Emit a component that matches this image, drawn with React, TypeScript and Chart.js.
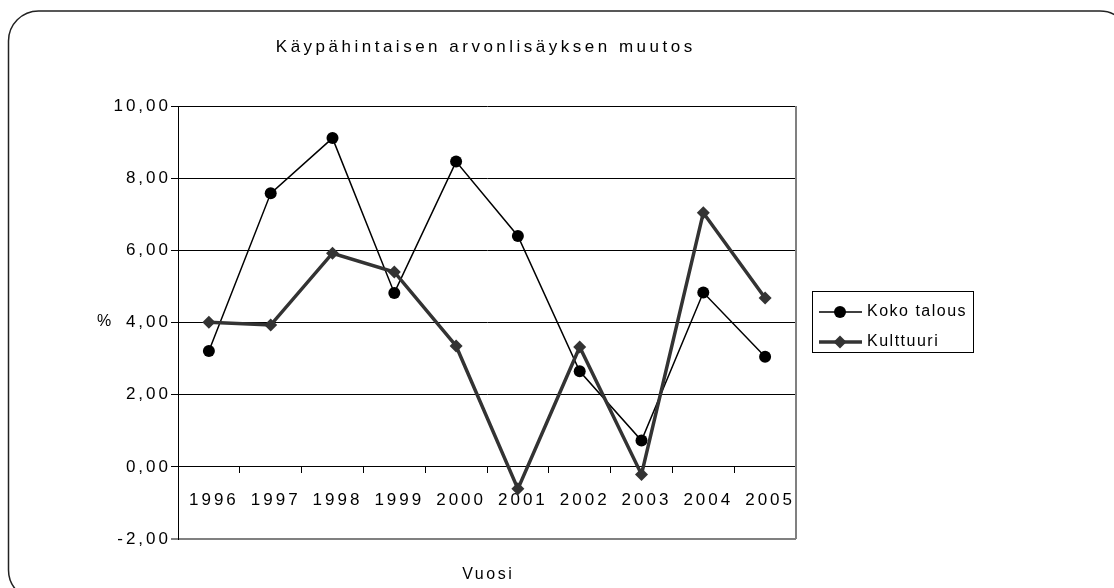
import React, { useEffect, useRef } from 'react';
import { Chart, registerables } from 'chart.js';

Chart.register(...registerables);

const years = ['1996', '1997', '1998', '1999', '2000', '2001', '2002', '2003', '2004', '2005'];
const kokoTalous = [3.21, 7.58, 9.11, 4.82, 8.46, 6.4, 2.65, 0.73, 4.83, 3.05];
const kulttuuri = [4.01, 3.93, 5.92, 5.4, 3.35, -0.61, 3.32, -0.21, 7.04, 4.68];
const seriesNames = ['Koko talous', 'Kulttuuri'];
const titleText = 'Käypähintaisen arvonlisäyksen muutos';
const xAxisTitle = 'Vuosi';
const yAxisTitle = '%';
const yMin = -2;
const yMax = 10;
const yStep = 2;

const FONT = '"Liberation Sans", Arial, Helvetica, sans-serif';

function drawText(ctx: CanvasRenderingContext2D, text: string, x: number, y: number, size: number, spacing: number, align: CanvasTextAlign) {
  ctx.save();
  (ctx as any).letterSpacing = spacing + 'px';
  ctx.font = `${size}px ${FONT}`;
  ctx.fillStyle = '#000';
  ctx.textAlign = align;
  ctx.textBaseline = 'middle';
  ctx.fillText(text, align === 'center' ? x + spacing / 2 : x, y);
  ctx.restore();
}

const decorPlugin = {
  id: 'decor',
  beforeDraw(chart: any) {
    const ctx: CanvasRenderingContext2D = chart.ctx;
    ctx.save();
    ctx.fillStyle = '#fff';
    ctx.fillRect(0, 0, chart.width, chart.height);
    // rounded outer frame
    const l = 8.5, t = 11, r = 1130, b = 600, rad = 30;
    ctx.beginPath();
    ctx.moveTo(l + rad, t);
    ctx.lineTo(r - rad, t);
    ctx.arcTo(r, t, r, t + rad, rad);
    ctx.lineTo(r, b - rad);
    ctx.arcTo(r, b, r - rad, b, rad);
    ctx.lineTo(l + rad, b);
    ctx.arcTo(l, b, l, b - rad, rad);
    ctx.lineTo(l, t + rad);
    ctx.arcTo(l, t, l + rad, t, rad);
    ctx.closePath();
    ctx.strokeStyle = '#222';
    ctx.lineWidth = 1.5;
    ctx.stroke();
    ctx.restore();
    (ctx as any).letterSpacing = '3px';
  },
  beforeDatasetsDraw(chart: any) {
    const ctx: CanvasRenderingContext2D = chart.ctx;
    (ctx as any).letterSpacing = '0px';
    const a = chart.chartArea;
    ctx.save();
    ctx.strokeStyle = '#808080';
    ctx.lineWidth = 2;
    ctx.beginPath();
    ctx.moveTo(a.right, a.top);
    ctx.lineTo(a.right, a.bottom);
    ctx.stroke();
    ctx.restore();
  },
  afterDraw(chart: any) {
    const ctx: CanvasRenderingContext2D = chart.ctx;
    const a = chart.chartArea;
    const cx = (a.left + a.right) / 2;
    drawText(ctx, titleText, cx - 3, 47, 17, 3.5, 'center');
    drawText(ctx, xAxisTitle, cx, 575, 16, 2.5, 'center');
    drawText(ctx, yAxisTitle, 104, (a.top + a.bottom) / 2 - 1, 16, 0, 'center');

    // legend
    const bx = 812.5, by = 291.5, bw = 161, bh = 61;
    ctx.save();
    ctx.strokeStyle = '#000';
    ctx.lineWidth = 1;
    ctx.strokeRect(bx, by, bw, bh);
    const ds = chart.data.datasets;
    const rows = [312, 342];
    rows.forEach((yy, i) => {
      const d = ds[i];
      ctx.strokeStyle = d.borderColor;
      ctx.lineWidth = d.borderWidth;
      ctx.beginPath();
      ctx.moveTo(819, yy);
      ctx.lineTo(862, yy);
      ctx.stroke();
      ctx.fillStyle = d.pointBackgroundColor;
      ctx.beginPath();
      if (d.pointStyle === 'circle') {
        ctx.arc(840, yy, d.pointRadius, 0, Math.PI * 2);
      } else {
        const rr = d.pointRadius;
        ctx.moveTo(840, yy - rr);
        ctx.lineTo(840 + rr, yy);
        ctx.lineTo(840, yy + rr);
        ctx.lineTo(840 - rr, yy);
        ctx.closePath();
      }
      ctx.fill();
      drawText(ctx, d.label, 867, yy, 16, 1.5, 'left');
    });
    ctx.restore();
  },
};

export default function App() {
  const ref = useRef<HTMLCanvasElement | null>(null);

  useEffect(() => {
    if (!ref.current) return;
    const chart = new Chart(ref.current, {
      type: 'line',
      data: {
        labels: years,
        datasets: [
          {
            label: seriesNames[0],
            data: kokoTalous,
            borderColor: '#000',
            borderWidth: 1.5,
            pointStyle: 'circle',
            pointRadius: 6,
            pointBackgroundColor: '#000',
            pointBorderColor: '#000',
            pointBorderWidth: 0,
            tension: 0,
            order: 1,
          },
          {
            label: seriesNames[1],
            data: kulttuuri,
            borderColor: '#333',
            borderWidth: 3.5,
            pointStyle: 'rectRot',
            pointRadius: 6.5,
            pointBackgroundColor: '#333',
            pointBorderColor: '#333',
            pointBorderWidth: 0,
            tension: 0,
            order: 0,
          },
        ],
      },
      options: {
        responsive: false,
        animation: false,
        devicePixelRatio: 1,
        layout: { padding: { left: 100, right: 318, top: 106, bottom: 49 } },
        plugins: {
          legend: { display: false },
          title: { display: false },
          tooltip: { enabled: false },
        },
        scales: {
          x: {
            type: 'category',
            offset: true,
            position: { y: 0 } as any,
            grid: {
              offset: true,
              drawOnChartArea: false,
              drawTicks: true,
              tickLength: 6,
              color: '#000',
            },
            border: { display: true, color: '#000', width: 1 },
            ticks: {
              color: '#000',
              font: { family: FONT, size: 17 },
              padding: 17,
              labelOffset: 5,
              maxRotation: 0,
              autoSkip: false,
            },
          },
          y: {
            min: yMin,
            max: yMax,
            grid: {
              color: (c: any) => (c.tick && c.tick.value === yMin ? '#808080' : '#000'),
              lineWidth: (c: any) => (c.tick && c.tick.value === yMin ? 2 : 1),
              tickLength: 7,
            },
            border: { display: true, color: '#000', width: 1 },
            ticks: {
              stepSize: yStep,
              color: '#000',
              padding: 0,
              font: { family: FONT, size: 17 },
              callback: (v: any) => Number(v).toFixed(2).replace('.', ','),
            },
            afterFit: (s: any) => {
              s.width = 78;
            },
          },
        },
      },
      plugins: [decorPlugin],
    });
    return () => chart.destroy();
  }, []);

  return (
    <div style={{ position: 'absolute', left: 0, top: 0, width: 1114, height: 588 }}>
      <canvas ref={ref} width={1114} height={588} style={{ display: 'block' }} />
    </div>
  );
}
